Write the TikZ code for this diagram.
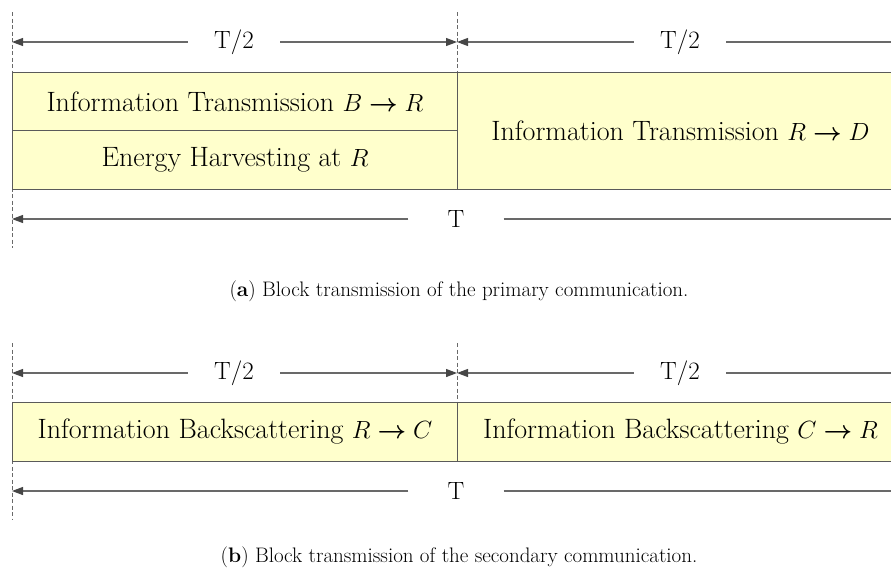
\documentclass[tikz,border=0pt]{standalone}
\usepackage{bm}
\usetikzlibrary{arrows.meta}
\definecolor{cellfill}{RGB}{255,255,204}
\definecolor{rulegray}{RGB}{90,90,90}
\definecolor{dimgray}{RGB}{105,105,105}
\definecolor{tipgray}{RGB}{70,70,70}
\tikzset{
  cell/.style={draw=rulegray, line width=1pt, fill=cellfill, inner sep=0pt,
    anchor=north west, font=\fontsize{28}{32}\selectfont},
  dimlabel/.style={inner sep=0pt, font=\fontsize{25}{30}\selectfont},
  dimarrow/.style={draw=dimgray, line width=1.1pt,
    -{Triangle[length=11pt,width=8pt,color=tipgray]}, shorten <=26pt},
  dimline/.style={draw=dimgray, line width=1.1pt, shorten <=26pt},
  wide/.style={shorten <=39pt},
  guide/.style={draw=dimgray, line width=0.7pt, dash pattern=on 4pt off 2.5pt},
  caption/.style={inner sep=0pt, font=\fontsize{21}{25}\selectfont}
}
\begin{document}
\begin{tikzpicture}[x=1pt, y=-1pt]
\clip (0,0) rectangle (891,574);

% ---------- (a) primary communication ----------
\coordinate (gaL) at (12,42);
\coordinate (gaM) at (457,42);
\coordinate (gaR) at (905,42);
\draw[guide] (12,12) -- (12,248);
\draw[guide] (457,12) -- (457,72);

\node[cell, minimum width=445pt, minimum height=58pt] (ita) at (12,72)
  {Information Transmission $B\bm{\rightarrow}R$};
\node[cell, minimum width=445pt, minimum height=59pt] (eh) at (12,130)
  {Energy Harvesting at $R$};
\node[cell, minimum width=446pt, minimum height=117pt] (itb) at (457,72)
  {Information Transmission $R\bm{\rightarrow}D$};

\node[dimlabel] (ha1) at (234,42) {T/2};
\node[dimlabel] (ha2) at (680,42) {T/2};
\draw[dimarrow] (ha1) -- (gaL);
\draw[dimarrow] (ha1) -- (gaM);
\draw[dimarrow] (ha2) -- (gaM);
\draw[dimline] (ha2) -- (gaR);

\node[dimlabel] (ta) at (456,219) {T};
\coordinate (taL) at (12,219);
\coordinate (taR) at (905,219);
\draw[dimarrow, wide] (ta) -- (taL);
\draw[dimline, wide] (ta) -- (taR);

\node[caption] (capa) at (459,291)
  {(\textbf{a}) Block transmission of the primary communication.};

% ---------- (b) secondary communication ----------
\coordinate (gbL) at (12,373);
\coordinate (gbM) at (457,373);
\coordinate (gbR) at (905,373);
\draw[guide] (12,343) -- (12,520);
\draw[guide] (457,343) -- (457,402);

\node[cell, minimum width=445pt, minimum height=59pt] (bsa) at (12,402)
  {Information Backscattering $R\bm{\rightarrow}C$};
\node[cell, minimum width=446pt, minimum height=59pt] (bsb) at (457,402)
  {Information Backscattering $C\bm{\rightarrow}R$};

\node[dimlabel] (hb1) at (234,373) {T/2};
\node[dimlabel] (hb2) at (680,373) {T/2};
\draw[dimarrow] (hb1) -- (gbL);
\draw[dimarrow] (hb1) -- (gbM);
\draw[dimarrow] (hb2) -- (gbM);
\draw[dimline] (hb2) -- (gbR);

\node[dimlabel] (tb) at (456,491) {T};
\coordinate (tbL) at (12,491);
\coordinate (tbR) at (905,491);
\draw[dimarrow, wide] (tb) -- (tbL);
\draw[dimline, wide] (tb) -- (tbR);

\node[caption] (capb) at (459,557)
  {(\textbf{b}) Block transmission of the secondary communication.};
\end{tikzpicture}
\end{document}
